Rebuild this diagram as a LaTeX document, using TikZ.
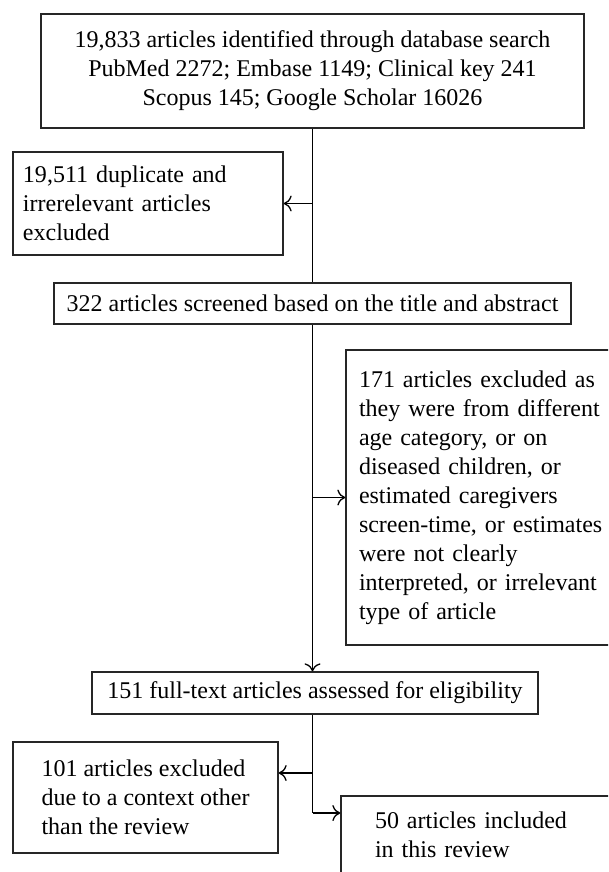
\documentclass[tikz,border=0pt]{standalone}
\usepackage{fontspec}
\setmainfont{Liberation Serif}
\usetikzlibrary{arrows.meta}

\begin{document}
\begin{tikzpicture}[x=1pt,y=1pt]
\tikzstyle{every node}+=[font=\fontsize{24}{29}\selectfont]
\tikzstyle{box}=[draw=black!85, line width=1.3pt, rectangle, inner ysep=0pt]
\tikzstyle{arr}=[black, line width=1.3pt, -{To[length=8pt,width=16pt]}]
\useasboundingbox (0,0) rectangle (608,-872);
\clip (0,0) rectangle (608,-872);
\node [box, minimum width=543, minimum height=114, align=center] (found) at (312.5,-71) {19,833 articles identified through database search\\PubMed 2272; Embase 1149; Clinical key 241\\Scopus 145; Google Scholar 16026};
\node [box, minimum height=103, text width=250, inner xsep=10pt, align=left] (dup) at (148,-203.5) {19,511 duplicate and\\irrerelevant articles\\excluded};
\node [box, minimum width=517, minimum height=41, align=center] (screen) at (312.5,-303.5) {322 articles screened based on the title and abstract};
\node [box, minimum height=295, text width=252, inner xsep=13pt, align=left] (excl) at (485,-497.5) {171 articles excluded as\\they were from different\\age category, or on\\diseased children, or\\estimated caregivers\\screen-time, or estimates\\were not clearly\\interpreted, or irrelevant\\type of article};
\node [box, minimum width=446, minimum height=42, align=center] (full) at (315,-693) {151 full-text articles assessed for eligibility};
\node [box, minimum width=265, minimum height=111, align=left] (other) at (145.5,-797.5) {101 articles excluded\\due to a context other\\than the review};
\node [box, minimum height=78, text width=230, inner xsep=34pt, align=left] (incl) at (490,-835) {50 articles included\\in this review};
\coordinate (split) at (312.5,-773);
\coordinate (turn) at (312.5,-813);
% connectors
\draw [black, line width=1.3pt] (found.south) -- (screen.north);
\draw [arr] (found.south |- dup.east) -- (dup.east);
\draw [arr] (screen.south) -- (screen.south |- full.north);
\draw [arr] (screen.south |- excl.west) -- (excl.west);
\draw [black, line width=1.3pt] (full.south -| screen.south) -- (turn);
\draw [arr] (split) -- (split -| other.east);
\draw [arr] (turn) -- (turn -| incl.west);
\end{tikzpicture}
\end{document}
